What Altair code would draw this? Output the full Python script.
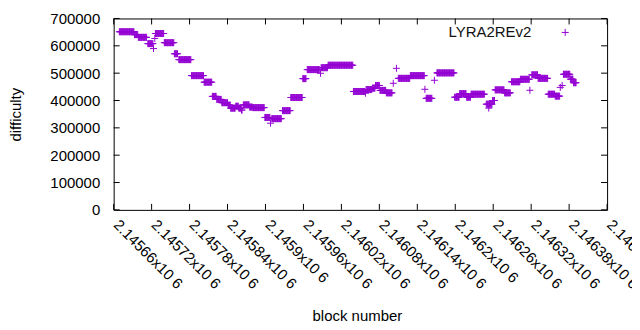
import altair as alt
import pandas as pd

series_name = "LYRA2REv2"

# runs of constant difficulty: first block, last block, difficulty
run_first = [2145669, 2145693, 2145699, 2145714, 2145723, 2145725, 2145726, 2145740, 2145756, 2145763,
             2145783, 2145803, 2145816, 2145823, 2145831, 2145841, 2145845, 2145853, 2145858, 2145862,
             2145865, 2145875, 2145880, 2145899, 2145908, 2145910, 2145927, 2145940, 2145959, 2145966,
             2145987, 2145988, 2145999, 2146039, 2146058, 2146059, 2146069, 2146074, 2146081, 2146091,
             2146102, 2146107, 2146110, 2146129, 2146152, 2146154, 2146167, 2146171, 2146199, 2146207,
             2146218, 2146225, 2146249, 2146253, 2146259, 2146263, 2146278, 2146289, 2146303, 2146318,
             2146321, 2146331, 2146347, 2146358, 2146366, 2146369, 2146371, 2146382, 2146387]
run_last = [2145692, 2145698, 2145712, 2145722, 2145723, 2145725, 2145739, 2145755, 2145761, 2145782,
            2145802, 2145815, 2145822, 2145830, 2145840, 2145844, 2145852, 2145857, 2145861, 2145863,
            2145874, 2145879, 2145898, 2145907, 2145908, 2145925, 2145939, 2145958, 2145964, 2145985,
            2145987, 2145998, 2146038, 2146057, 2146058, 2146068, 2146073, 2146080, 2146090, 2146100,
            2146102, 2146107, 2146128, 2146151, 2146152, 2146163, 2146167, 2146198, 2146206, 2146217,
            2146224, 2146246, 2146258, 2146253, 2146262, 2146277, 2146287, 2146302, 2146317, 2146318,
            2146330, 2146346, 2146357, 2146365, 2146366, 2146369, 2146381, 2146386, 2146391]
run_value = [651500, 641000, 631000, 608000, 590000, 627000, 645000, 611500, 571000, 549500,
             491000, 467000, 415000, 404000, 392000, 383000, 372000, 379000, 372000, 365000,
             384000, 376000, 374000, 338000, 317000, 333600, 363000, 411000, 480000, 513000,
             499500, 520000, 529000, 433000, 426500, 440000, 445000, 455000, 437000, 428000,
             463000, 517700, 481000, 491000, 441000, 408000, 474000, 501000, 412000, 425000,
             412000, 423000, 386500, 372000, 400000, 439000, 428000, 468500, 477600, 437500,
             494000, 481000, 423000, 416000, 448000, 455000, 496000, 478000, 465000]

x_ticks = [2145660, 2145720, 2145780, 2145840, 2145900, 2145960, 2146020,
           2146080, 2146140, 2146200, 2146260, 2146320, 2146380, 2146440]
y_ticks = [0, 100000, 200000, 300000, 400000, 500000, 600000, 700000]

rows = []
for f, l, v in zip(run_first, run_last, run_value):
    for b in range(f, l + 1):
        rows.append({"block": b, "difficulty": v})
df = pd.DataFrame(rows)

W, H = 495, 192
TL = 6
FONT = "Liberation Sans"
PURPLE = "#9400d3"
PLUS = "M-1,0H1M0,-1V1"

xs = alt.Scale(domain=[x_ticks[0], x_ticks[-1]], nice=False, zero=False)
ys = alt.Scale(domain=[y_ticks[0], y_ticks[-1]], nice=False, zero=False)

x_axis = alt.Axis(
    values=x_ticks, ticks=False, domain=False, grid=False,
    labelAngle=45, labelAlign="left", labelBaseline="middle",
    labelPadding=12, labelOffset=2, labelFlush=False, labelOverlap=False,
    labelExpr="format(datum.value/1000000, '.6~f') + 'x10 6'",
    labelFontSize=15, labelFont=FONT, labelColor="#000",
    title="block number", titleX=244, titleY=106, titleBaseline="middle",
    titleAlign="center", titleFontSize=15, titleFont=FONT, titleFontWeight="normal",
    titleColor="#000")
y_axis = alt.Axis(
    values=y_ticks, ticks=False, domain=False, grid=False, format="d",
    labelPadding=14, labelFontSize=15, labelFont=FONT, labelColor="#000",
    title="difficulty", titleX=-98, titleY=96, titleAngle=270,
    titleBaseline="middle", titleAlign="center", titleFontSize=15,
    titleFont=FONT, titleFontWeight="normal", titleColor="#000")

points = alt.Chart(df).mark_point(
    shape=PLUS, size=49, strokeWidth=1, filled=False, opacity=1, color=PURPLE
).encode(
    x=alt.X("block:Q", scale=xs, axis=x_axis, title="block number"),
    y=alt.Y("difficulty:Q", scale=ys, axis=y_axis, title="difficulty"),
)

xt = alt.Chart(pd.DataFrame({"t": x_ticks}))
yt = alt.Chart(pd.DataFrame({"t": y_ticks}))
x_bottom = xt.mark_rule(color="black", strokeWidth=1).encode(
    x=alt.X("t:Q", scale=xs, axis=x_axis, title="block number"),
    y=alt.value(H), y2=alt.value(H - TL))
x_top = xt.mark_rule(color="black", strokeWidth=1).encode(
    x=alt.X("t:Q", scale=xs, axis=x_axis, title="block number"),
    y=alt.value(0), y2=alt.value(TL))
y_left = yt.mark_rule(color="black", strokeWidth=1).encode(
    y=alt.Y("t:Q", scale=ys, axis=y_axis, title="difficulty"),
    x=alt.value(0), x2=alt.value(TL))
y_right = yt.mark_rule(color="black", strokeWidth=1).encode(
    y=alt.Y("t:Q", scale=ys, axis=y_axis, title="difficulty"),
    x=alt.value(W), x2=alt.value(W - TL))

leg = alt.Chart(pd.DataFrame({"s": [series_name]}))
leg_text = leg.mark_text(align="right", baseline="middle", fontSize=15, font=FONT,
                         color="#111").encode(x=alt.value(419), y=alt.value(14), text="s:N")
leg_pt = leg.mark_point(shape=PLUS, size=49, strokeWidth=1, filled=False, opacity=1,
                        color=PURPLE).encode(x=alt.value(453), y=alt.value(14))

chart = alt.layer(points, x_bottom, x_top, y_left, y_right, leg_text, leg_pt).properties(
    width=W, height=H,
    autosize=alt.AutoSizeParams(type="none"),
    padding={"left": 106, "top": 10, "right": 25, "bottom": 120},
    background="white",
).configure_view(stroke="black", strokeWidth=1)

chart.save("out.html", embed_options={"renderer": "svg", "actions": False})
